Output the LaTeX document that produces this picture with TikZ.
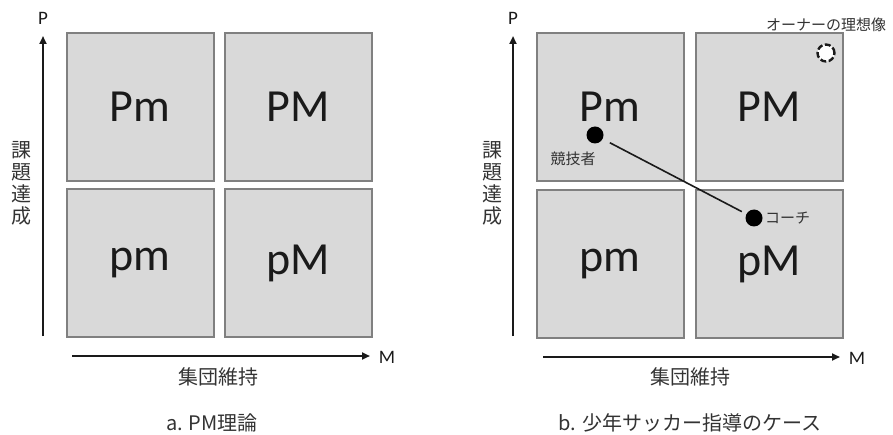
\documentclass[tikz,border=0pt]{standalone}
\usepackage{fontspec}
\setmainfont{Carlito}
\newfontfamily\jp{Noto Sans CJK JP}
\usetikzlibrary{arrows.meta}
\definecolor{boxfill}{HTML}{D9D9D9}
\definecolor{boxline}{HTML}{808080}
\definecolor{ink}{HTML}{1A1A1A}
\definecolor{lbl}{HTML}{333333}
\tikzset{
  quad/.style={draw=boxline, line width=2pt, fill=boxfill, minimum width=147pt, minimum height=148pt, inner sep=0pt,
    font=\fontsize{46}{46}\selectfont, text=ink},
  axis/.style={draw=ink, line width=2pt, -{Triangle[length=8pt,width=7pt]}},
  axlbl/.style={font=\fontsize{19}{19}\selectfont, text=ink, inner sep=0pt},
  jplbl/.style={font=\jp\fontsize{20}{22}\selectfont, text=lbl, inner sep=0pt, align=center},
  smalljp/.style={font=\jp\fontsize{15}{15}\selectfont, text=lbl, inner sep=0pt},
  dot/.style={circle, fill=black, minimum size=17pt, inner sep=0pt},
}
\begin{document}
\begin{tikzpicture}[x=1pt,y=-1pt]
\useasboundingbox (0,0) rectangle (893,435);
% ---- panel a ----
\node[quad] (aPm) at (140,107) {Pm};
\node[quad] (aPM) at (298,107) {PM};
\node[quad] (apm) at (140,263) {pm};
\node[quad] (apM) at (298,263) {pM};
\coordinate (aY0) at (43,336);
\coordinate (aY1) at (43,36);
\coordinate (aX0) at (72,356);
\coordinate (aX1) at (370,356);
\draw[axis] (aY0) -- (aY1);
\draw[axis] (aX0) -- (aX1);
\node[axlbl] (aP) at (43,18) {P};
\node[axlbl] (aM) at (387,357) {M};
\node[jplbl] (aPlab) at (22,183) {課\\題\\達\\成};
\node[jplbl] (aMlab) at (218,377) {集団維持};
\node[jplbl] (acap) at (212,423) {a. PM理論};
% ---- panel b ----
\node[quad] (bPm) at (610,107) {Pm};
\node[quad] (bPM) at (769,107) {PM};
\node[quad] (bpm) at (610,264) {pm};
\node[quad] (bpM) at (769,264) {pM};
\coordinate (bY0) at (513,336);
\coordinate (bY1) at (513,36);
\coordinate (bX0) at (543,357);
\coordinate (bX1) at (840,357);
\draw[axis] (bY0) -- (bY1);
\draw[axis] (bX0) -- (bX1);
\node[axlbl] (bP) at (513,18) {P};
\node[axlbl] (bM) at (857,358) {M};
\node[jplbl] (bPlab) at (492,183) {課\\題\\達\\成};
\node[jplbl] (bMlab) at (690,377) {集団維持};
\node[jplbl] (bcap) at (690,423) {b. 少年サッカー指導のケース};
\node[dot] (comp) at (595,135) {};
\node[dot] (coach) at (754,218) {};
\draw[draw=ink, line width=1.6pt, shorten <=8pt, shorten >=5pt] (comp) -- (coach);
\node[smalljp] (complab) at (573,159) {競技者};
\node[smalljp, anchor=west] (coachlab) at (765,218) {コーチ};
\node[circle, draw=ink, fill=white, line width=2.4pt, dash pattern=on 6pt off 2.5pt, minimum size=17pt, inner sep=0pt] (ideal) at (826,53) {};
\node[smalljp] (ideallab) at (826,25) {オーナーの理想像};
\end{tikzpicture}
\end{document}
